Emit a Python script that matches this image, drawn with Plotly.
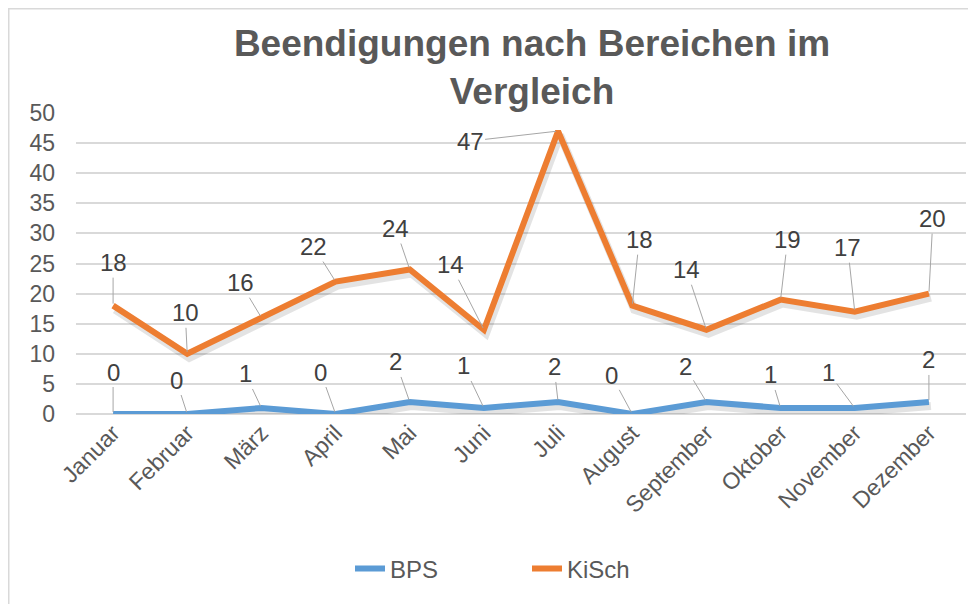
import plotly.graph_objects as go

# Daten
months = ["Januar", "Februar", "März", "April", "Mai", "Juni", "Juli",
          "August", "September", "Oktober", "November", "Dezember"]
bps = [0, 0, 1, 0, 2, 1, 2, 0, 2, 1, 1, 2]
kisch = [18, 10, 16, 22, 24, 14, 47, 18, 14, 19, 17, 20]
y_ticks = list(range(0, 51, 5))

# Label-Versatz (px) relativ zum Punkt, wie im Original
bps_offsets = [(0, -42), (-11, -34), (-16, -34), (-15, -42), (-14, -40), (-20, -42),
               (-4, -35), (-21, -39), (-21, -35), (-10, -33), (-26, -35), (0, -42)]
kisch_offsets = [(0, -43), (-2, -41), (-21, -35), (-22, -35), (-14, -41), (-33, -65),
                 (-88, 10), (7, -66), (-20, -60), (7, -60), (-7, -64), (4, -75)]

FONT = "Arial, 'Liberation Sans', sans-serif"
BLUE = "#5B9BD5"
ORANGE = "#ED7D31"
GRID = "#D9D9D9"
TEXT = "#595959"

# die Seite hat 8px Rand -> Figur entsprechend kleiner
W, H = 968, 596
L, R, T, B = 68, 10, 105, 190
plot_w = W - L - R
plot_h = H - T - B


def px_x(x):
    return (x - L) / plot_w


def px_y(y):
    return (H - B - y) / plot_h


fig = go.Figure()

# Schatten (unter den Linien, auf leicht verschobenen Achsen)
for vals in (bps, kisch):
    fig.add_trace(go.Scatter(
        x=months, y=vals, mode="lines", xaxis="x", yaxis="y",
        line=dict(color="rgba(0,0,0,0.11)", width=8),
        showlegend=False, hoverinfo="skip",
    ))

fig.add_trace(go.Scatter(
    x=months, y=bps, mode="lines", name="BPS", xaxis="x2", yaxis="y2",
    line=dict(color=BLUE, width=6),
))
fig.add_trace(go.Scatter(
    x=months, y=kisch, mode="lines", name="KiSch", xaxis="x2", yaxis="y2",
    line=dict(color=ORANGE, width=6),
))

annotations = []
for vals, offs in ((kisch, kisch_offsets), (bps, bps_offsets)):
    for m, v, (ax, ay) in zip(months, vals, offs):
        annotations.append(dict(
            x=m, y=v, xref="x2", yref="y2", text=str(v),
            showarrow=True, arrowhead=0, arrowwidth=1, arrowcolor="#A6A6A6",
            ax=ax, ay=ay, standoff=2,
            font=dict(family=FONT, size=24, color="#404040"),
        ))

dx = 2 / (plot_w / 12)
dy = 4 / (plot_h / 50)

fig.update_layout(
    width=W, height=H,
    margin=dict(l=L, r=R, t=T, b=B),
    paper_bgcolor="white", plot_bgcolor="white",
    font=dict(family=FONT, color=TEXT),
    title=dict(
        text="<b>Beendigungen nach Bereichen im<br>Vergleich</b>",
        x=524 / W, xanchor="center", xref="container",
        y=1 - 48 / H, yanchor="top", yref="container",
        font=dict(family=FONT, size=37, color=TEXT),
    ),
    xaxis=dict(range=[-0.5 - dx, 11.5 - dx], visible=False),
    yaxis=dict(range=[dy, 50 + dy], visible=False),
    xaxis2=dict(
        overlaying="x", anchor="y2", range=[-0.5, 11.5],
        showgrid=False, showline=False, ticks="", tickangle=-45,
        tickfont=dict(family=FONT, size=23, color=TEXT),
    ),
    yaxis2=dict(
        overlaying="y", anchor="x2", range=[0, 50], tickvals=y_ticks,
        showgrid=True, gridcolor=GRID, gridwidth=1.5,
        zeroline=True, zerolinecolor=GRID, zerolinewidth=2,
        showline=False, ticks="", ticklabelstandoff=20,
        tickfont=dict(family=FONT, size=23, color=TEXT),
    ),
    legend=dict(
        orientation="h", x=px_x(342), xanchor="left",
        y=px_y(561), yanchor="middle",
        font=dict(family=FONT, size=24, color=TEXT),
        entrywidth=132, entrywidthmode="pixels",
    ),
    showlegend=True,
    annotations=annotations,
    shapes=[dict(
        type="rect", xref="paper", yref="paper", layer="below",
        x0=px_x(0.75), x1=px_x(W + 20),
        y0=px_y(H + 20), y1=px_y(0.75),
        line=dict(color=GRID, width=1.5), fillcolor="rgba(0,0,0,0)",
    )],
)

fig.write_html("out.html")
